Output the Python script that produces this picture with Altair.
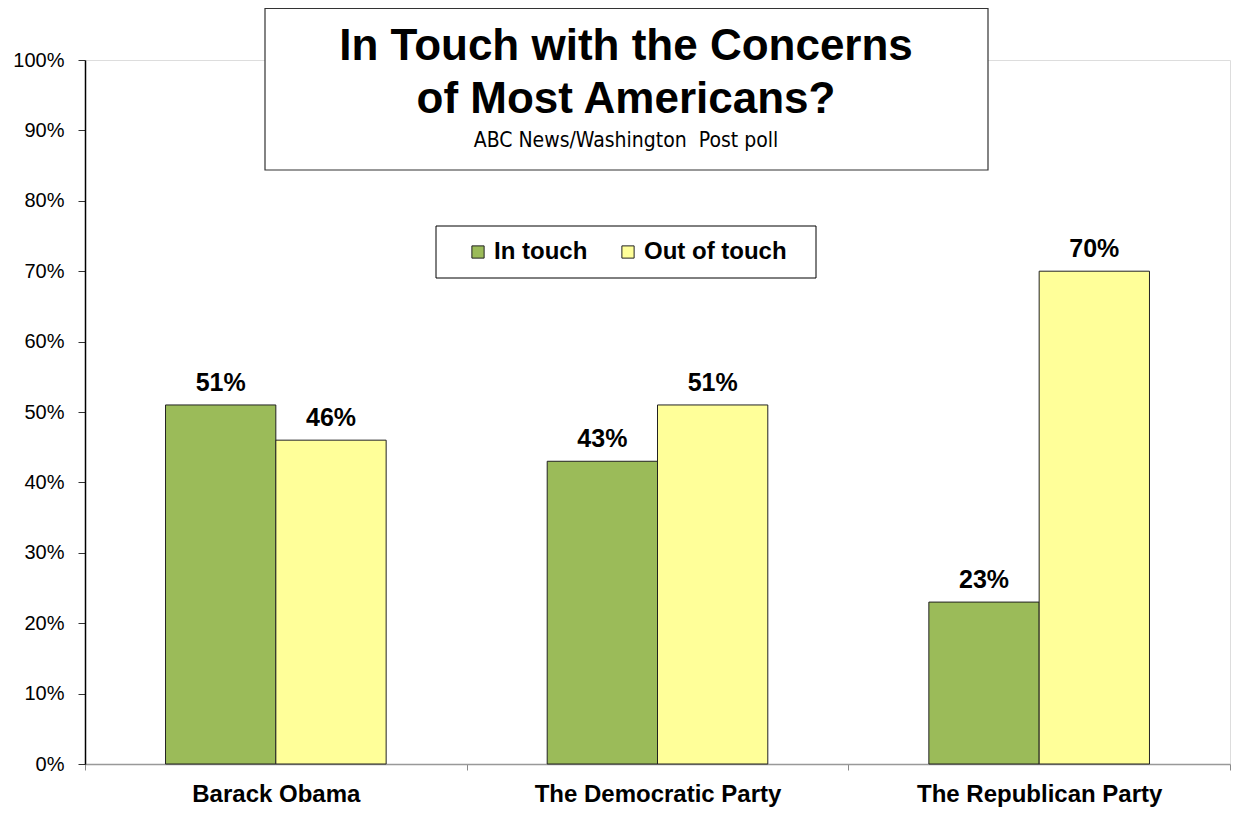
import altair as alt
import pandas as pd

categories = ["Barack Obama", "The Democratic Party", "The Republican Party"]
series = ["In touch", "Out of touch"]
in_touch = [51, 43, 23]
out_of_touch = [46, 51, 70]
colors = ["#9BBB59", "#FFFF99"]
title_lines = ["In Touch with the Concerns", "of Most Americans?"]
subtitle = "ABC News/Washington\u00a0 Post poll"

rows = []
for c, a, b in zip(categories, in_touch, out_of_touch):
    rows.append({"cat": c, "series": series[0], "val": a})
    rows.append({"cat": c, "series": series[1], "val": b})
df = pd.DataFrame(rows)
df["label"] = df["val"].astype(str) + "%"

W, H = 1145, 704
FONT = "Liberation Sans"

x = alt.X("cat:N", sort=categories, title=None,
          scale=alt.Scale(paddingInner=0, paddingOuter=0),
          axis=alt.Axis(labelFontSize=24, labelFontWeight="bold", labelColor="black",
                        labelFont=FONT, labelPadding=12, labelAngle=0,
                        tickBand="extent", tickSize=6, tickColor="#888",
                        domainColor="#999", domainWidth=1.5, labelLimit=400))
xo = alt.XOffset("series:N", sort=series, scale=alt.Scale(paddingOuter=0.73, paddingInner=0))
y = alt.Y("val:Q", title=None, scale=alt.Scale(domain=[0, 100], nice=False),
          axis=alt.Axis(values=list(range(0, 101, 10)), labelExpr="datum.value + '%'",
                        labelFontSize=20, labelColor="black", labelFont=FONT,
                        tickSize=7, tickColor="#333", domainColor="black",
                        labelPadding=14, grid=False, domainWidth=1.5))

base = alt.Chart(df)
bars = base.mark_bar(stroke="#222", strokeWidth=1).encode(
    x=x, xOffset=xo, y=y,
    color=alt.Color("series:N", sort=series,
                    scale=alt.Scale(domain=series, range=colors),
                    legend=alt.Legend(title=None, orient="none", legendX=381, legendY=180,
                                      direction="horizontal", symbolType="square",
                                      symbolSize=150, symbolStrokeColor="#222",
                                      symbolStrokeWidth=1, labelFontSize=24,
                                      labelFontWeight="bold", labelFont=FONT,
                                      labelColor="black", columnPadding=28,
                                      labelOffset=4, padding=0, labelLimit=300)),
)
labels = base.mark_text(fontSize=25, fontWeight="bold", font=FONT, dy=-22, color="black").encode(
    x=x, xOffset=xo, y=y, text="label:N")

legend_box = alt.Chart(pd.DataFrame({"k": [0]})).mark_rect(
    fill="white", stroke="black", strokeWidth=1).encode(
    x=alt.value(351), x2=alt.value(731), y=alt.value(166), y2=alt.value(218))

title_box = alt.Chart(pd.DataFrame({"k": [0]})).mark_rect(
    fill="white", stroke="#333", strokeWidth=1.2).encode(
    x=alt.value(180), x2=alt.value(903), y=alt.value(-51.5), y2=alt.value(110))

tdf = pd.DataFrame({"t": title_lines, "yy": [-13, 40]})
title_text = alt.Chart(tdf).mark_text(fontSize=44, fontWeight="bold", font=FONT,
                                      color="black", baseline="middle").encode(
    x=alt.value(541), y=alt.Y("yy:Q", scale=None), text="t:N")
sub_text = alt.Chart(pd.DataFrame({"t": [subtitle]})).mark_text(
    fontSize=21, font="Liberation Sans Narrow, Arial Narrow, DejaVu Sans Condensed, Liberation Sans",
    color="black", baseline="middle").encode(
    x=alt.value(541), y=alt.value(81), text="t:N")

chart = alt.layer(bars, labels, legend_box, title_box, title_text, sub_text).properties(
    width=W, height=H,
    autosize=alt.AutoSizeParams(type="none"),
    padding={"left": 77, "top": 52, "right": 1, "bottom": 43},
).configure_view(stroke="#aaa", strokeWidth=1.5).configure(background="white")

chart.save("out.html", embed_options={"renderer": "svg", "actions": False})
